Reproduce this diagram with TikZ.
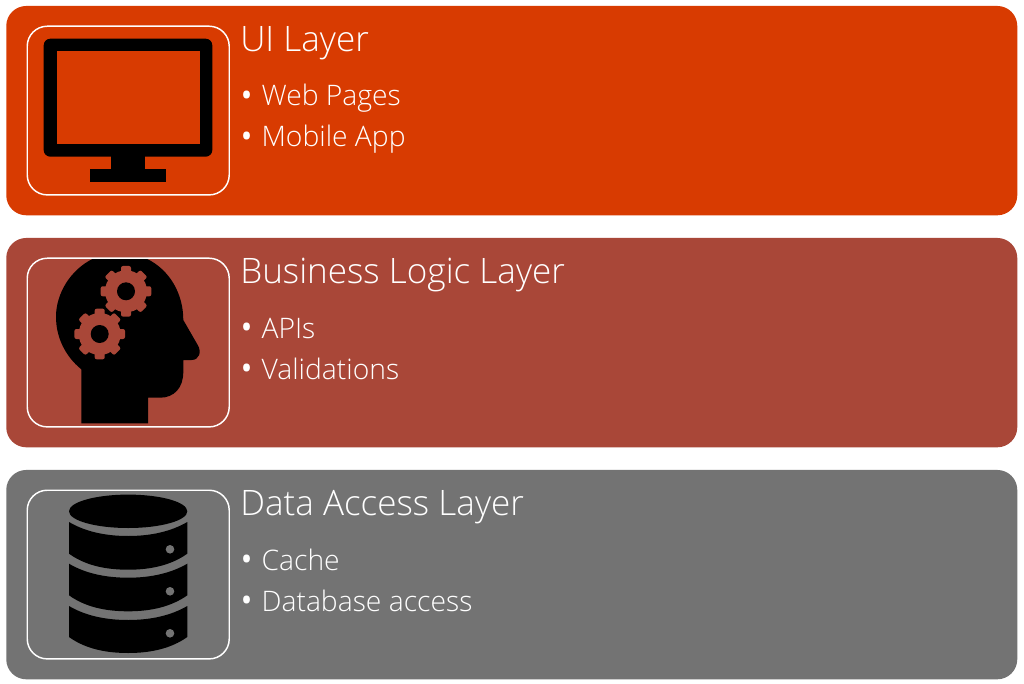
\documentclass[tikz,border=0pt]{standalone}
\usepackage{fontspec}
\setmainfont{Open Sans}[UprightFont=* Light]
\usepackage{tikz}
\usetikzlibrary{positioning}
\definecolor{uicolor}{HTML}{D83B01}
\definecolor{logiccolor}{HTML}{A94738}
\definecolor{datacolor}{HTML}{737373}
\tikzstyle{panel}=[rounded corners=15, minimum width=758.25pt, minimum height=157pt, inner sep=0pt, anchor=north west]
\tikzstyle{iconbox}=[draw=white, line width=1.1pt, rounded corners=15, minimum width=151.5pt, minimum height=126.5pt, inner sep=0pt, anchor=north west]
\tikzstyle{title}=[text=white, anchor=base west, inner sep=0pt, font=\fontsize{26.3pt}{30pt}\selectfont]
\tikzstyle{item}=[text=white, anchor=base west, inner sep=0pt, font=\fontsize{21.2pt}{26pt}\selectfont]
\newcommand{\itemdot}{\makebox[16pt][l]{\hspace*{-1.5pt}\raisebox{-4.2pt}{\scalebox{1.6}{\textbullet}}}}

\begin{document}
\begin{tikzpicture}[x=0.75pt, y=-0.75pt]
    \useasboundingbox (0,0) rectangle (1024,684);
    \fill[white] (0,0) rectangle (1024,684);

    % UI layer
    \node[panel, fill=uicolor] (uipanel) at (6,5.7) {};
    \node[iconbox] (uibox) at (26.5,25.5) {};
    \node[title] (uititle) at (240,51.5) {UI Layer};
    \node[item] (webpages) at (240,105.5) {\itemdot Web Pages};
    \node[item] (mobileapp) at (240,146.5) {\itemdot Mobile App};
    % monitor
    \fill[black, rounded corners=5] (43.7,38.7) rectangle (212.3,156.7);
    \fill[uicolor] (56.7,51.3) rectangle (200,144);
    \fill[black] (111,156) rectangle (145,170);
    \fill[black] (90,169.3) rectangle (166,182);

    % business logic layer
    \node[panel, fill=logiccolor] (logicpanel) at (6,237.7) {};
    \node[title] (logictitle) at (240,284) {Business Logic Layer};
    \node[item] (apis) at (240,338) {\itemdot APIs};
    \node[item] (validations) at (240,379) {\itemdot Validations};
    % head
    \fill[black] (81.3,423.3) -- (81.3,369.3)
      .. controls (65,356) and (56,337) .. (56,316.7)
      .. controls (56,294) and (70,270) .. (93,258.7)
      -- (146.7,258.7)
      .. controls (170,270) and (183.3,294) .. (183.3,320)
      -- (197.7,345)
      .. controls (202,352) and (199,360) .. (191.7,360)
      -- (183.3,360) -- (183.3,372)
      .. controls (183.3,388) and (174,397.7) .. (160,397.7)
      -- (148,397.7) -- (148,423.3) -- cycle;
    % gears
    \foreach \cx/\cy in {126/291.3, 99.7/334} {
      \fill[logiccolor] (\cx,\cy) circle[radius=21];
      \foreach \a in {0,45,...,315} {
        \fill[logiccolor, rounded corners=1.5, shift={(\cx,\cy)}, rotate=\a]
          (-5,-18) rectangle (5,-25.3);
      }
      \fill[black] (\cx,\cy) circle[radius=9];
    }
    \node[iconbox] (logicbox) at (26.5,257.5) {};

    % data access layer
    \node[panel, fill=datacolor] (datapanel) at (6,469.7) {};
    \node[iconbox] (databox) at (26.5,489.5) {};
    \node[title] (datatitle) at (240,515) {Data Access Layer};
    \node[item] (cache) at (240,570) {\itemdot Cache};
    \node[item] (dbaccess) at (240,611) {\itemdot Database access};
    % database
    \fill[black] (128.15,511.3) ellipse[x radius=59.15, y radius=16.7];
    \foreach \ytop/\ybot/\ydot in {522/553.7/549.3, 563.7/595.3/591.3, 606/637/633.3} {
      \fill[black] (69,\ytop)
        .. controls (85,\ytop+9.5) and (105,\ytop+14) .. (128.15,\ytop+14)
        .. controls (151,\ytop+14) and (171,\ytop+9.5) .. (187.3,\ytop)
        -- (187.3,\ybot)
        .. controls (171,\ybot+11.5) and (151,\ybot+16) .. (128.15,\ybot+16)
        .. controls (105,\ybot+16) and (85,\ybot+11.5) .. (69,\ybot) -- cycle;
      \fill[datacolor] (170,\ydot) circle[radius=4.3];
    }
\end{tikzpicture}
\end{document}
